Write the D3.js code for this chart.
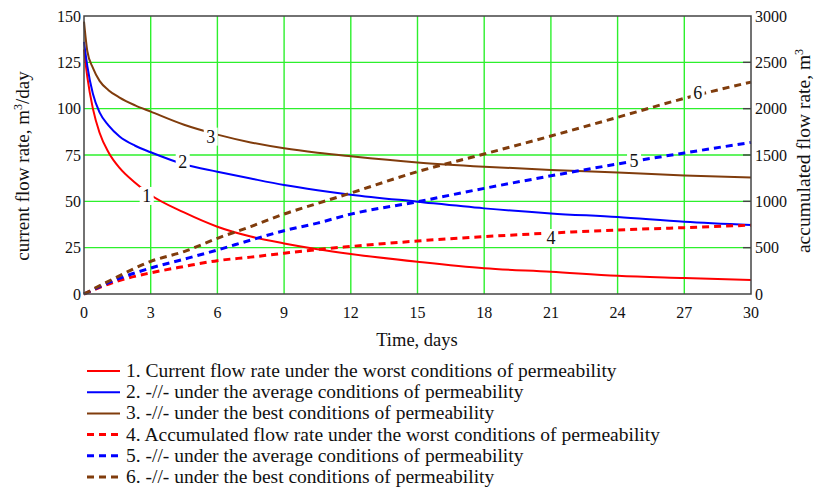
<!DOCTYPE html>
<html>
<head>
<meta charset="utf-8">
<script src="https://cdn.jsdelivr.net/npm/d3@7"></script>
<style>
  html, body { margin: 0; padding: 0; background: #fff; }
  svg { display: block; font-family: "Liberation Serif", "Times New Roman", serif; }
</style>
</head>
<body>
<svg id="chart" width="821" height="490"></svg>
<script>
// Time, days
const days = [0, 0.15, 0.4, 0.7, 1.1, 1.6, 2.3, 3, 4.5, 6, 7.5, 9, 10.5, 12, 15, 18, 21, 24, 27, 30];

// Current flow rate, m3/day (left axis)
const rateWorst   = [132, 117, 100, 87, 76.5, 68, 60, 53.4, 44, 36.3, 31, 27.3, 24.2, 21.6, 17.4, 13.9, 12.0, 9.8, 8.6, 7.5];
const rateAverage = [136, 123, 108, 98, 91, 85, 80, 76.5, 70, 66, 62.3, 58.8, 56, 53.6, 49.8, 46.2, 43.5, 41.5, 39, 37.2];
const rateBest    = [147, 131, 122, 115, 110, 106, 101.8, 98.4, 91.3, 86, 81.8, 78.6, 76.2, 74.3, 71, 68.7, 66.9, 65.5, 64, 62.8];

// Accumulated flow rate, m3 (right axis)
const accDays    = [0, 1.5, 3, 4.5, 6, 7.5, 9, 10.5, 12, 15, 18, 21, 24, 27, 30];
const accWorst   = [0, 140, 228, 297, 360, 398, 440, 480, 513, 572, 619, 658, 691, 716, 743];
const accAverage = [0, 160, 280, 376, 475, 582, 683, 765, 862, 996, 1140, 1275, 1403, 1522, 1636];
const accBest    = [0, 185, 352, 458, 601, 728, 863, 977, 1090, 1320, 1511, 1705, 1907, 2111, 2287];

const xTicks = [0, 3, 6, 9, 12, 15, 18, 21, 24, 27, 30];
const yLeftTicks = [0, 25, 50, 75, 100, 125, 150];
const yRightTicks = [0, 500, 1000, 1500, 2000, 2500, 3000];

const legendTexts = [
  "1. Current flow rate under the worst conditions of permeability",
  "2. -//- under the average conditions of permeability",
  "3. -//- under the best conditions of permeability",
  "4. Accumulated flow rate under the worst conditions of permeability",
  "5. -//- under the average conditions of permeability",
  "6. -//- under the best conditions of permeability"
];

// Curve number tags: day, value on the axis of that curve
const tagDays   = [2.82, 4.44, 5.7, 21.0, 24.74, 27.6];
const tagValues = [52.9, 71.4, 84.9, 604, 1435, 2169];

const RED = "#ff0000", BLUE = "#0000ff", BROWN = "#803c0c", GRID = "#2df02d";

const series = [
  { x: days, y: rateWorst,   color: RED,   dashed: false, axis: "left"  },
  { x: days, y: rateAverage, color: BLUE,  dashed: false, axis: "left"  },
  { x: days, y: rateBest,    color: BROWN, dashed: false, axis: "left"  },
  { x: accDays, y: accWorst,   color: RED,   dashed: true, axis: "right" },
  { x: accDays, y: accAverage, color: BLUE,  dashed: true, axis: "right" },
  { x: accDays, y: accBest,    color: BROWN, dashed: true, axis: "right" }
];

const plot = { left: 84, right: 751, top: 16, bottom: 294 };
const svg = d3.select("#chart");

const x = d3.scaleLinear().domain([0, 30]).range([plot.left, plot.right]);
const yL = d3.scaleLinear().domain([0, 150]).range([plot.bottom, plot.top]);
const yR = d3.scaleLinear().domain([0, 3000]).range([plot.bottom, plot.top]);

// grid
const grid = svg.append("g");
grid.selectAll("line.v").data(xTicks.slice(1, -1)).join("line")
  .attr("x1", d => x(d)).attr("x2", d => x(d))
  .attr("y1", plot.top).attr("y2", plot.bottom)
  .attr("stroke", GRID).attr("stroke-width", 1.4);
grid.selectAll("line.h").data(yLeftTicks.slice(1, -1)).join("line")
  .attr("x1", plot.left).attr("x2", plot.right)
  .attr("y1", d => yL(d)).attr("y2", d => yL(d))
  .attr("stroke", GRID).attr("stroke-width", 1.4);

// right axis inner tick marks
grid.selectAll("line.rt").data(yRightTicks.slice(1, -1)).join("line")
  .attr("x1", plot.right - 8).attr("x2", plot.right)
  .attr("y1", d => yR(d)).attr("y2", d => yR(d))
  .attr("stroke", "#444").attr("stroke-width", 1.4);

// curves
const curveGroup = svg.append("g");
series.forEach(s => {
  const ys = s.axis === "left" ? yL : yR;
  const line = d3.line()
    .x((d, i) => x(s.x[i]))
    .y(d => ys(d))
    .curve(d3.curveMonotoneX);
  curveGroup.append("path")
    .attr("d", line(s.y))
    .attr("fill", "none")
    .attr("stroke", s.color)
    .attr("stroke-width", s.dashed ? 3 : 2)
    .attr("stroke-dasharray", s.dashed ? "7,5" : null)
    .attr("stroke-linejoin", "round");
});

// frame
svg.append("rect")
  .attr("x", plot.left).attr("y", plot.top)
  .attr("width", plot.right - plot.left).attr("height", plot.bottom - plot.top)
  .attr("fill", "none").attr("stroke", "#444").attr("stroke-width", 1.5);

// curve number tags with white backing
const tags = svg.append("g").attr("font-size", 18).attr("fill", "#111");
series.forEach((s, i) => {
  const ys = s.axis === "left" ? yL : yR;
  const cx = x(tagDays[i]), cy = ys(tagValues[i]);
  tags.append("rect")
    .attr("x", cx - 7).attr("y", cy - 9).attr("width", 14).attr("height", 18)
    .attr("fill", "#fff");
  tags.append("text")
    .attr("x", cx).attr("y", cy + 6)
    .attr("text-anchor", "middle")
    .text(String(i + 1));
});

// tick labels
const tickFont = 16;
svg.append("g").selectAll("text").data(xTicks).join("text")
  .attr("x", d => x(d)).attr("y", 318)
  .attr("text-anchor", "middle").attr("font-size", tickFont).attr("fill", "#111")
  .text(d => d);
svg.append("g").selectAll("text").data(yLeftTicks).join("text")
  .attr("x", plot.left - 3).attr("y", d => yL(d) + 5.5)
  .attr("text-anchor", "end").attr("font-size", tickFont).attr("fill", "#111")
  .text(d => d);
svg.append("g").selectAll("text").data(yRightTicks).join("text")
  .attr("x", plot.right + 4).attr("y", d => yR(d) + 5.5)
  .attr("text-anchor", "start").attr("font-size", tickFont).attr("fill", "#111")
  .text(d => d);

// axis titles
svg.append("text")
  .attr("x", 417).attr("y", 346)
  .attr("text-anchor", "middle").attr("font-size", 18.5).attr("fill", "#111")
  .text("Time, days");

const leftTitle = svg.append("text")
  .attr("transform", "translate(29,166) rotate(-90)")
  .attr("text-anchor", "middle").attr("font-size", 19).attr("fill", "#111");
leftTitle.append("tspan").text("current flow rate, m");
leftTitle.append("tspan").attr("font-size", 12).attr("dy", -7).text("3");
leftTitle.append("tspan").attr("dy", 7).text("/day");

const rightTitle = svg.append("text")
  .attr("transform", "translate(810,151) rotate(-90)")
  .attr("text-anchor", "middle").attr("font-size", 19.5).attr("fill", "#111");
rightTitle.append("tspan").text("accumulated flow rate, m");
rightTitle.append("tspan").attr("font-size", 12).attr("dy", -7).text("3");

// legend
const legend = svg.append("g");
legendTexts.forEach((t, i) => {
  const s = series[i];
  const yy = 371 + i * 21.2;
  legend.append("line")
    .attr("x1", 87).attr("x2", 120).attr("y1", yy).attr("y2", yy)
    .attr("stroke", s.color)
    .attr("stroke-width", s.dashed ? 3 : 2)
    .attr("stroke-dasharray", s.dashed ? "7,5" : null);
  legend.append("text")
    .attr("x", 126).attr("y", yy + 6)
    .attr("font-size", 19.5).attr("fill", "#111")
    .text(t);
});
</script>
</body>
</html>
